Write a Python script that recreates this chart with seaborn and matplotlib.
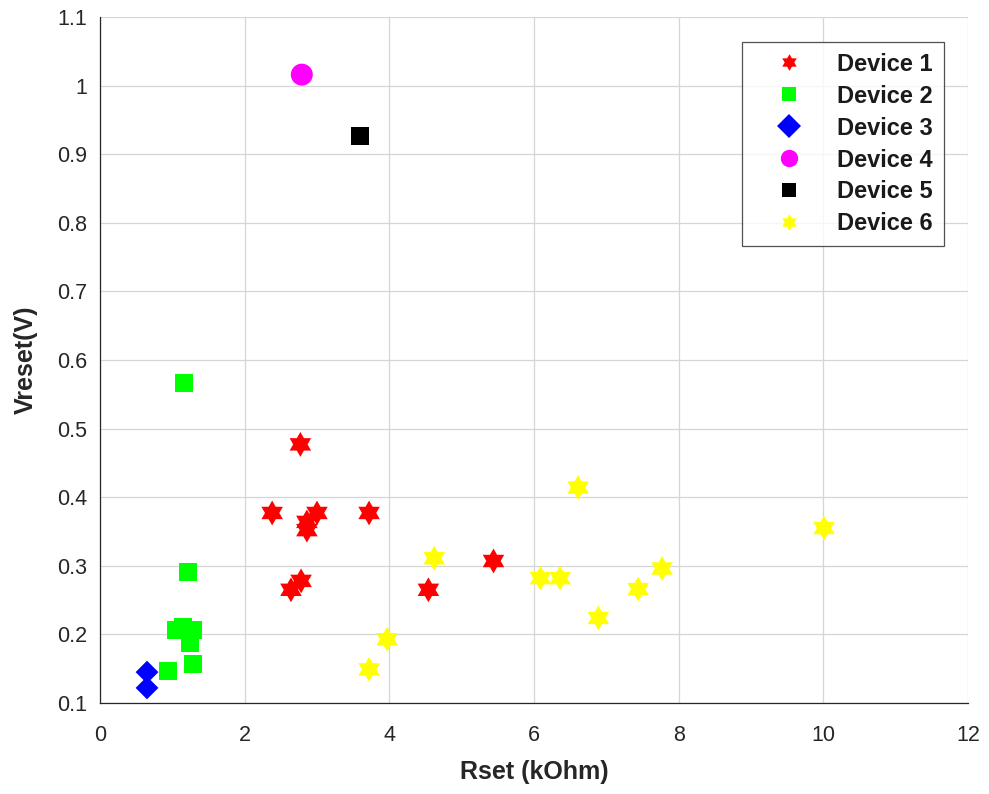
import numpy as np
import pandas as pd
import matplotlib
matplotlib.use("Agg")
import matplotlib.pyplot as plt
from matplotlib.lines import Line2D
from matplotlib.path import Path
import seaborn as sns

# ---- data ----
dev1_x = [2.77, 2.38, 3.00, 2.86, 2.86, 3.72, 2.78, 2.64, 4.54, 5.44]
dev1_y = [0.477, 0.377, 0.377, 0.364, 0.352, 0.377, 0.278, 0.265, 0.265, 0.307]
dev2_x = [1.16, 1.22, 1.05, 1.15, 1.29, 1.24, 0.94, 1.29]
dev2_y = [0.567, 0.291, 0.206, 0.211, 0.206, 0.187, 0.147, 0.157]
dev3_x = [0.65, 0.65]
dev3_y = [0.145, 0.122]
dev4_x = [2.79]
dev4_y = [1.016]
dev5_x = [3.60]
dev5_y = [0.927]
dev6_x = [3.72, 3.97, 4.62, 6.09, 6.36, 6.61, 6.89, 7.44, 7.77, 10.01]
dev6_y = [0.149, 0.193, 0.311, 0.282, 0.282, 0.414, 0.224, 0.266, 0.296, 0.355]

labels = ["Device 1", "Device 2", "Device 3", "Device 4", "Device 5", "Device 6"]
xs = [dev1_x, dev2_x, dev3_x, dev4_x, dev5_x, dev6_x]
ys = [dev1_y, dev2_y, dev3_y, dev4_y, dev5_y, dev6_y]
colors = ["#ff0000", "#00ff00", "#0000ff", "#ff00ff", "#000000", "#ffff00"]
hexagram = Path.unit_regular_star(6, 0.577)
markers = [hexagram, "s", "D", "o", "s", hexagram]
sizes = [320, 170, 135, 250, 165, 320]
leg_sizes = [12, 10, 12, 12.5, 10, 12]

x_ticks = [0, 2, 4, 6, 8, 10, 12]
y_ticks = [0.1, 0.2, 0.3, 0.4, 0.5, 0.6, 0.7, 0.8, 0.9, 1.0, 1.1]
y_ticklabels = ["0.1", "0.2", "0.3", "0.4", "0.5", "0.6", "0.7", "0.8", "0.9", "1", "1.1"]

df = pd.concat(
    [pd.DataFrame({"Rset": x, "Vreset": y, "Device": l}) for x, y, l in zip(xs, ys, labels)],
    ignore_index=True,
)

sns.set_style("white")
plt.rcParams["font.family"] = ["Liberation Sans", "DejaVu Sans"]

fig = plt.figure(figsize=(9.89, 7.94), dpi=100)
ax = fig.add_axes([100 / 989, 1 - 703 / 794, 868 / 989, 686 / 794])

for lab, c, m, s in zip(labels, colors, markers, sizes):
    sub = df[df["Device"] == lab]
    sns.scatterplot(data=sub, x="Rset", y="Vreset", color=c, marker=m, s=s,
                    edgecolor="none", linewidth=0, ax=ax, legend=False, zorder=3)

ax.set_xlim(0, 12)
ax.set_ylim(0.1, 1.1)
ax.set_xticks(x_ticks)
ax.set_xticklabels([str(t) for t in x_ticks])
ax.set_yticks(y_ticks)
ax.set_yticklabels(y_ticklabels)
ax.grid(True, color="#d6d6d6", linewidth=0.9)
ax.set_axisbelow(True)
for side in ["top", "right"]:
    ax.spines[side].set_visible(False)
for side in ["left", "bottom"]:
    ax.spines[side].set_color("#262626")
    ax.spines[side].set_linewidth(0.9)
ax.tick_params(axis="both", direction="in", length=5, width=0.8, colors="#262626",
               labelsize=15.5, labelcolor="#262626")
ax.tick_params(axis="y", pad=9)
ax.tick_params(axis="x", pad=16)

ax.set_xlabel("Rset (kOhm)", fontsize=18, fontweight="bold", color="#262626", labelpad=10)
ax.set_ylabel("Vreset(V)", fontsize=18, fontweight="bold", color="#262626", labelpad=14)

handles = [Line2D([], [], linestyle="none", marker=m, color=c, markeredgecolor=c,
                  markersize=ms, markeredgewidth=0)
           for m, c, ms in zip(markers, colors, leg_sizes)]
leg = ax.legend(handles, labels, loc="upper right", bbox_to_anchor=(0.972, 0.9636),
                borderaxespad=0, frameon=True, fancybox=False, edgecolor="#262626",
                prop={"weight": "bold", "size": 17}, labelspacing=0.38,
                handlelength=3.1, handletextpad=0.5, borderpad=0.45)
leg.get_frame().set_linewidth(0.9)
for t in leg.get_texts():
    t.set_color("#1a1a1a")

fig.savefig("out.png", dpi=100, facecolor="white")
